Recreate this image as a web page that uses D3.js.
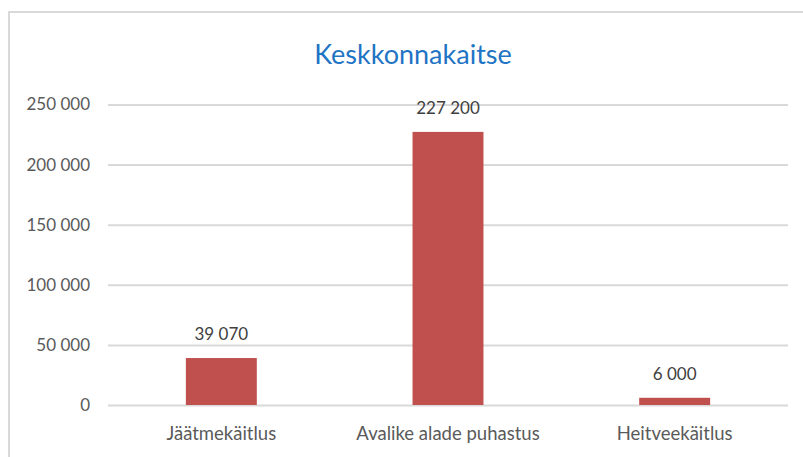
<!DOCTYPE html>
<html>
<head>
<meta charset="utf-8">
<script src="https://cdn.jsdelivr.net/npm/d3@7"></script>
<style>
  body { margin: 0; background: #fff; overflow: hidden; }
  text { font-family: Lato, "Open Sans", sans-serif; }
</style>
</head>
<body>
<div id="chart"></div>
<script>
// data
const categories = ["Jäätmekäitlus", "Avalike alade puhastus", "Heitveekäitlus"];
const values = [39070, 227200, 6000];
const yTicks = [0, 50000, 100000, 150000, 200000, 250000];
const chartTitle = "Keskkonnakaitse";

const W = 803, H = 457;
const margin = {top: 104.5, right: 15, bottom: 52, left: 108};
const width = W - margin.left - margin.right;
const height = H - margin.top - margin.bottom;

const locale = d3.formatLocale({decimal: ",", thousands: "\u00a0", grouping: [3], currency: ["", " €"]});
const fmt = locale.format(",d");

const svg = d3.select("#chart").append("svg").attr("width", W).attr("height", H);

// outer chart border
svg.append("rect")
  .attr("x", 9).attr("y", 12)
  .attr("width", 820).attr("height", 470)
  .attr("fill", "none")
  .attr("stroke", "#d9d9d9")
  .attr("stroke-width", 2);

svg.append("text")
  .attr("x", 413).attr("y", 64)
  .attr("text-anchor", "middle")
  .attr("fill", "#1f74c4")
  .style("font-size", "27px")
  .text(chartTitle);

const g = svg.append("g").attr("transform", `translate(${margin.left},${margin.top})`);

const x = d3.scaleBand().domain(categories).range([0, width]).paddingInner(0.687).paddingOuter(0.3435);
const y = d3.scaleLinear().domain([0, 250000]).range([height, 0]);

// gridlines + y labels
g.append("g")
  .call(d3.axisLeft(y).tickValues(yTicks).tickFormat(fmt).tickSize(-width).tickPadding(18))
  .call(a => a.select(".domain").remove())
  .call(a => a.selectAll(".tick line").attr("stroke", "#d9d9d9").attr("stroke-width", 2))
  .call(a => a.selectAll(".tick text").attr("fill", "#5a5a5a").style("font-size", "17px").style("font-family", "Lato, sans-serif"));

// bars
g.selectAll(".bar")
  .data(values)
  .enter().append("rect")
  .attr("class", "bar")
  .attr("x", (d, i) => x(categories[i]))
  .attr("y", d => y(d))
  .attr("width", x.bandwidth())
  .attr("height", d => height - y(d))
  .attr("fill", "#c0504d");

// value labels
g.selectAll(".val")
  .data(values)
  .enter().append("text")
  .attr("class", "val")
  .attr("x", (d, i) => x(categories[i]) + x.bandwidth() / 2)
  .attr("y", d => y(d) - 18)
  .attr("text-anchor", "middle")
  .attr("fill", "#404040")
  .style("font-size", "17px")
  .text(d => fmt(d));

// x labels
g.append("g")
  .attr("transform", `translate(0,${height})`)
  .call(d3.axisBottom(x).tickSize(0).tickPadding(22))
  .call(a => a.select(".domain").remove())
  .call(a => a.selectAll(".tick text").attr("fill", "#5a5a5a").style("font-size", "18.5px").style("font-family", "Lato, sans-serif"));
</script>
</body>
</html>
